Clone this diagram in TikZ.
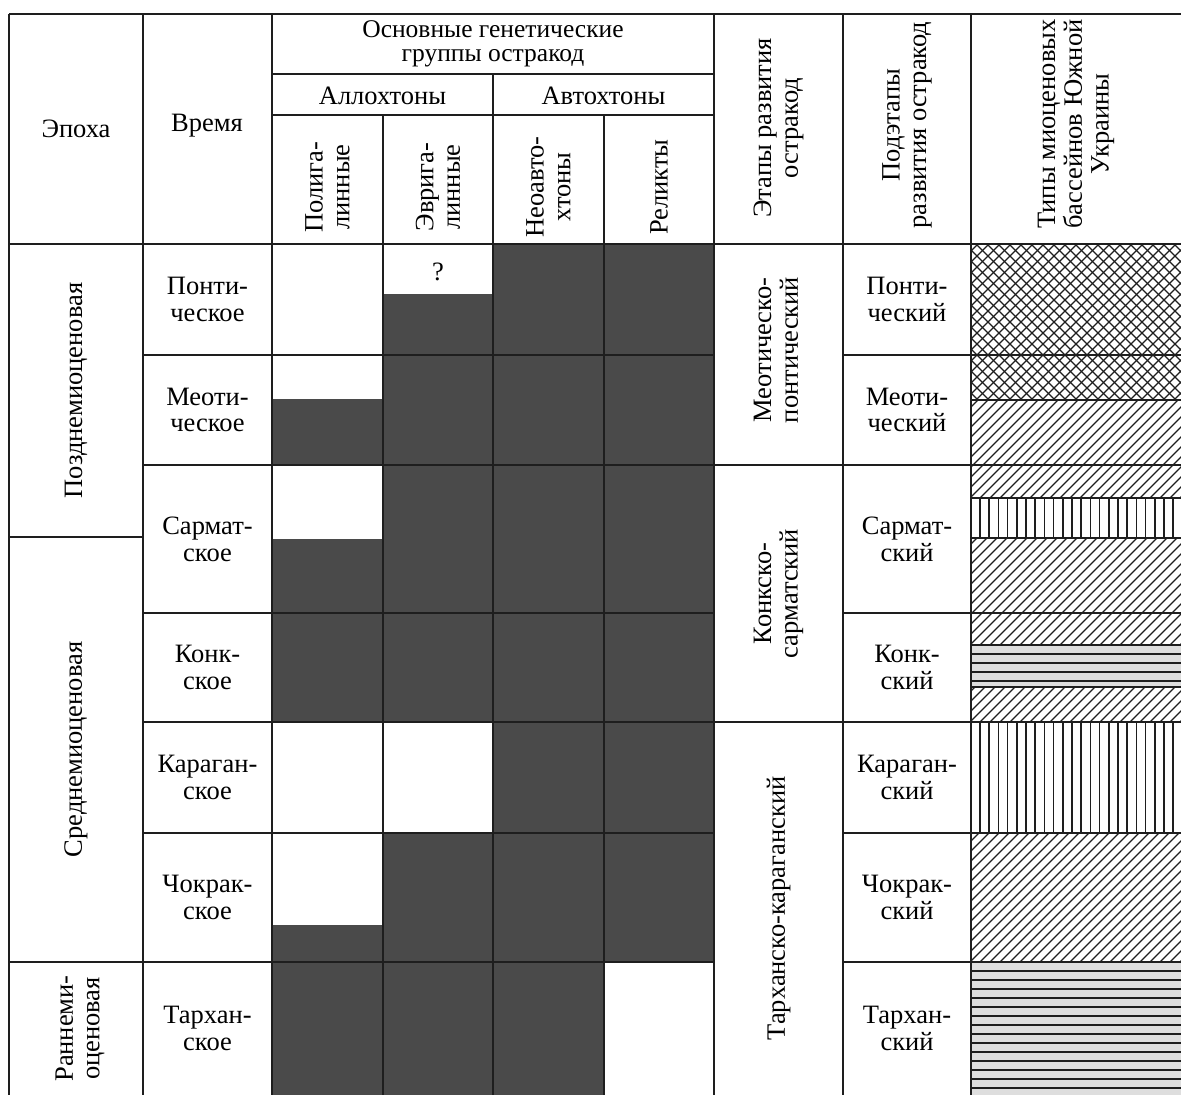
\documentclass[tikz,border=0pt]{standalone}
\usepackage{fontspec}
\setmainfont{Liberation Serif}
\definecolor{cellgray}{RGB}{74,74,74}
\definecolor{bandgray}{RGB}{222,222,222}
\definecolor{rulecol}{RGB}{30,30,30}

\begin{document}
\begin{tikzpicture}[x=1pt,y=-1pt,
    grid/.style={line width=1.8pt,draw=rulecol},
    hatch/.style={line width=1.1pt,draw=rulecol},
    dark/.style={fill=cellgray},
    lbl/.style={align=center,inner sep=0pt,font=\fontsize{26.5}{26.7}\selectfont},
    vlbl/.style={lbl,rotate=90}]
  \useasboundingbox (0,0) rectangle (1181,1095);

  % dark cells
  \fill[dark] (493,244) rectangle (604,1095);
  \fill[dark] (604,244) rectangle (714,962);
  \fill[dark] (383,294) rectangle (493,722);
  \fill[dark] (383,833) rectangle (493,1095);
  \fill[dark] (272,399) rectangle (383,465);
  \fill[dark] (272,539) rectangle (383,722);
  \fill[dark] (272,925) rectangle (383,1095);

  % basin types
  \begin{scope}
    \clip (971,244) rectangle (1181,400);
    \foreach \k in {0,...,36} {
      \draw[hatch] ({800+11*\k},400) -- ++(170,-170);
      \draw[hatch] ({800+11*\k},244) -- ++(170,170);
    }
  \end{scope}
  \foreach \ya/\yb in {400/498,538/645,687/722,833/962} {
    \begin{scope}
      \clip (971,\ya) rectangle (1181,\yb);
      \foreach \k in {0,...,36}
        \draw[hatch] ({820+10*\k},\yb) -- ++(150,-150);
    \end{scope}
  }
  \foreach \ya/\yb in {498/538,722/833} {
    \foreach \k in {0,...,21}
      \draw[hatch,line width=1.6pt] ({980+9.2*\k},\ya) -- ({980+9.2*\k},\yb);
  }
  \foreach \ya/\yb in {645/687,962/1095} {
    \begin{scope}
      \clip (971,\ya) rectangle (1181,\yb);
      \fill[bandgray] (971,\ya) rectangle (1181,\yb);
      \foreach \k in {0,...,15}
        \draw[hatch] (971,{\ya+9*\k}) -- (1181,{\ya+9*\k});
    \end{scope}
  }
  \foreach \yy in {400,498,538,645,687}
    \draw[hatch] (971,\yy) -- (1181,\yy);

  % rules
  \draw[grid] (9,14) -- (1181,14);
  \draw[grid] (9,244) -- (1181,244);
  \draw[grid] (272,74) -- (714,74);
  \draw[grid] (272,115) -- (714,115);
  \foreach \xx in {9,143,272,714,843,971}
    \draw[grid] (\xx,14) -- (\xx,1095);
  \foreach \xx in {383,604}
    \draw[grid] (\xx,115) -- (\xx,1095);
  \draw[grid] (493,74) -- (493,1095);
  \foreach \yy in {355,613,833,962} {
    \draw[grid] (143,\yy) -- (714,\yy);
    \draw[grid] (843,\yy) -- (1181,\yy);
  }
  \foreach \yy in {465,722}
    \draw[grid] (143,\yy) -- (1181,\yy);
  \foreach \yy in {537,962}
    \draw[grid] (9,\yy) -- (143,\yy);

  % header
  \node[lbl] (epoch) at (76,129) {Эпоха};
  \node[lbl] (time) at (207,126) {Время};
  \node[lbl,font=\fontsize{25.5}{24}\selectfont] (groups) at (493,44) {Основные генетические\\группы остракод};
  \node[lbl] (allo) at (382.5,96) {Аллохтоны};
  \node[lbl] (auto) at (603.5,96) {Автохтоны};
  \node[vlbl] (polyg) at (327.5,187) {Полига-\\линные};
  \node[vlbl] (euryg) at (438,187) {Эврига-\\линные};
  \node[vlbl] (neoauto) at (548.5,187) {Неоавто-\\хтоны};
  \node[vlbl] (relict) at (659,187) {Реликты};
  \node[vlbl] (stages) at (778.5,128) {Этапы развития\\остракод};
  \node[vlbl] (substages) at (907,125) {Подэтапы\\развития остракод};
  \node[vlbl] (basins) at (1076,124) {Типы миоценовых\\бассейнов Южной\\Украины};

  % epochs and stages
  \node[vlbl] (late) at (76,390.5) {Позднемиоценовая};
  \node[vlbl] (middle) at (76,749.5) {Среднемиоценовая};
  \node[vlbl] (early) at (80,1028.5) {Раннеми-\\оценовая};
  \node[vlbl] (st1) at (776,350) {Меотическо-\\понтический};
  \node[vlbl] (st2) at (778.5,593.5) {Конкско-\\сарматский};
  \node[vlbl] (st3) at (778.5,908.5) {Тарханско-караганский};
  \node[lbl] (query) at (438,272) {?};

  % rows
  \foreach \yc/\tname/\sname [count=\i] in {
      299.5/{Понти-\\ческое}/{Понти-\\ческий},
      410/{Меоти-\\ческое}/{Меоти-\\ческий},
      539/{Сармат-\\ское}/{Сармат-\\ский},
      667.5/{Конк-\\ское}/{Конк-\\ский},
      777.5/{Караган-\\ское}/{Караган-\\ский},
      897.5/{Чокрак-\\ское}/{Чокрак-\\ский},
      1028.5/{Тархан-\\ское}/{Тархан-\\ский}} {
    \node[lbl] (t\i) at (207.5,\yc) {\tname};
    \node[lbl] (s\i) at (907,\yc) {\sname};
  }
\end{tikzpicture}
\end{document}
